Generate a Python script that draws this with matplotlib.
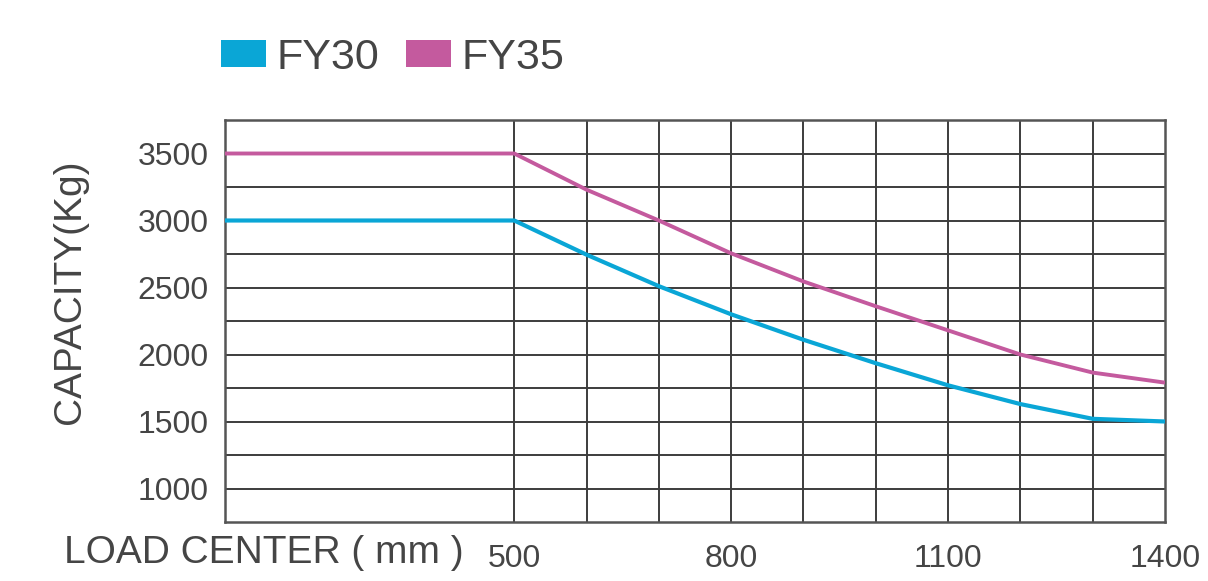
import matplotlib.pyplot as plt
from matplotlib.patches import Patch

# Capacity curves (load center in mm, capacity in kg)
load_center = [100, 500, 600, 700, 800, 900, 1000, 1100, 1200, 1300, 1400]
fy30 = [3000, 3000, 2745, 2510, 2300, 2110, 1935, 1770, 1630, 1520, 1500]
fy35 = [3500, 3500, 3230, 3000, 2755, 2545, 2360, 2180, 2000, 1865, 1790]

series_names = ["FY30", "FY35"]
x_ticks = [500, 800, 1100, 1400]
y_ticks = [1000, 1500, 2000, 2500, 3000, 3500]
x_grid = [500, 600, 700, 800, 900, 1000, 1100, 1200, 1300]
y_grid = [1000, 1250, 1500, 1750, 2000, 2250, 2500, 2750, 3000, 3250, 3500]

plt.rcParams["font.family"] = ["Liberation Sans", "DejaVu Sans"]

text_col = "#454545"
grid_col = "#3c3c3c"
c30 = "#0aa6d6"
c35 = "#c45a9e"


def main():
    fig = plt.figure(figsize=(12.08, 5.81), dpi=100)
    ax = fig.add_axes([225 / 1208, 1 - 522 / 581, 940 / 1208, 402 / 581])

    # grid drawn by hand: vertical lines only from 500 on
    for x in x_grid:
        ax.axvline(x, color=grid_col, lw=1.4, zorder=1)
    for y in y_grid:
        ax.axhline(y, color=grid_col, lw=1.4, zorder=1)

    ax.plot(load_center, fy30, color=c30, lw=3, zorder=3, solid_capstyle="butt")
    ax.plot(load_center, fy35, color=c35, lw=2.8, zorder=3, solid_capstyle="butt")

    ax.set_xlim(100, 1400)
    ax.set_ylim(750, 3750)

    for s in ax.spines.values():
        s.set_color("#555555")
        s.set_linewidth(1.8)

    ax.set_xticks(x_ticks)
    ax.set_yticks(y_ticks)
    ax.tick_params(length=0, colors=text_col)
    ax.tick_params(axis="x", labelsize=23, pad=16)
    ax.tick_params(axis="y", labelsize=23, pad=12)

    fig.text(70 / 1208, 1 - 292 / 581, "CAPACITY(Kg)", fontsize=28,
             color=text_col, rotation=90, ha="center", va="center")
    fig.text(64 / 1208, 1 - 553 / 581, "LOAD CENTER ( mm )", fontsize=28,
             color=text_col, ha="left", va="center")

    handles = [Patch(facecolor=c30, edgecolor="none"),
               Patch(facecolor=c35, edgecolor="none")]
    leg = fig.legend(handles, series_names, loc="center left",
                     bbox_to_anchor=(221 / 1208, 1 - 58 / 581), ncol=2,
                     frameon=False, fontsize=31, handlelength=1.05,
                     handleheight=0.58, handletextpad=0.25, columnspacing=0.6,
                     borderpad=0, borderaxespad=0)
    for t in leg.get_texts():
        t.set_color(text_col)

    fig.savefig("out.png", dpi=100)


if __name__ == "__main__":
    main()
